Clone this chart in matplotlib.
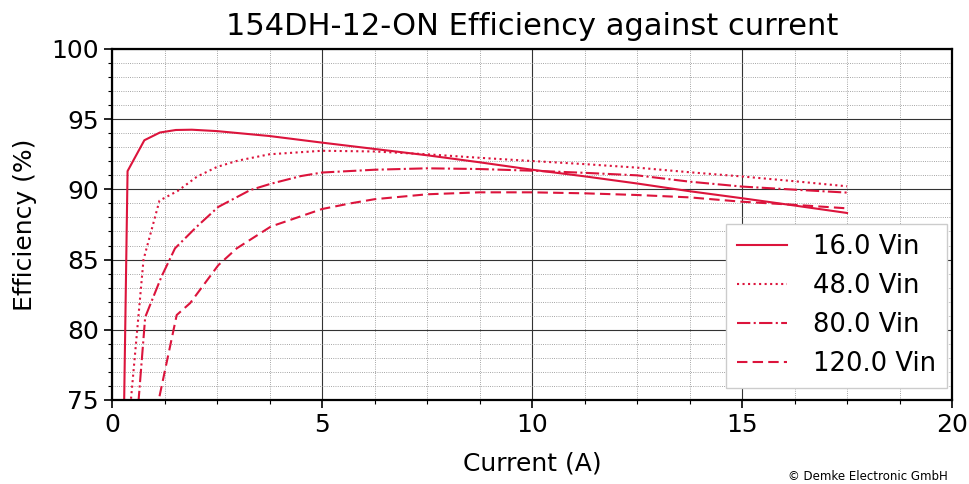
import matplotlib
matplotlib.use("Agg")
import matplotlib.pyplot as plt
from matplotlib.ticker import MultipleLocator

title = "154DH-12-ON Efficiency against current"
xlabel = "Current (A)"
ylabel = "Efficiency (%)"
labels = ["16.0 Vin", "48.0 Vin", "80.0 Vin", "120.0 Vin"]

x16 = [0.25, 0.37, 0.77, 1.14, 1.52, 1.9, 2.5, 3.75, 5.0, 6.25, 7.5, 8.75, 10.0, 11.25, 12.5, 13.75, 15.0, 16.25, 17.5]
y16 = [67.0, 91.3, 93.5, 94.05, 94.23, 94.25, 94.15, 93.8, 93.33, 92.88, 92.43, 91.93, 91.4, 90.93, 90.42, 89.87, 89.37, 88.85, 88.32]

x48 = [0.3, 0.75, 1.13, 1.57, 2.02, 2.5, 3.0, 3.75, 5.0, 6.25, 7.5, 8.75, 10.0, 11.25, 12.5, 13.75, 15.0, 16.25, 17.5]
y48 = [70.0, 85.0, 89.2, 89.9, 90.9, 91.6, 92.05, 92.5, 92.75, 92.7, 92.5, 92.25, 92.02, 91.8, 91.55, 91.22, 90.92, 90.58, 90.22]

x80 = [0.5, 0.79, 1.18, 1.5, 2.02, 2.53, 3.29, 3.78, 4.5, 5.0, 6.25, 7.5, 8.75, 10.0, 11.25, 12.5, 13.75, 15.0, 16.25, 17.5]
y80 = [70.0, 80.9, 83.8, 85.8, 87.35, 88.75, 89.95, 90.4, 90.95, 91.2, 91.4, 91.5, 91.45, 91.33, 91.18, 91.0, 90.55, 90.2, 89.98, 89.77]

x120 = [0.9, 1.54, 1.86, 2.53, 2.97, 3.78, 5.0, 5.67, 6.25, 7.5, 8.75, 10.0, 11.25, 12.5, 13.75, 15.0, 16.25, 17.5]
y120 = [72.0, 81.05, 81.9, 84.6, 85.8, 87.35, 88.6, 89.0, 89.3, 89.65, 89.79, 89.79, 89.72, 89.6, 89.43, 89.12, 88.9, 88.65]

fig = plt.figure(figsize=(9.69, 4.84), dpi=100)
ax = fig.add_axes([0.1156, 0.1736, 0.8669, 0.7252])

color = "crimson"
ax.plot(x16, y16, color=color, lw=1.5, ls="-", label=labels[0])
ax.plot(x48, y48, color=color, lw=1.5, ls=":", label=labels[1])
ax.plot(x80, y80, color=color, lw=1.5, ls="-.", label=labels[2])
ax.plot(x120, y120, color=color, lw=1.5, ls=(0, (5, 2.5)), label=labels[3])

ax.set_xlim(0, 20)
ax.set_ylim(75, 100)
ax.xaxis.set_major_locator(MultipleLocator(5))
ax.xaxis.set_minor_locator(MultipleLocator(1.25))
ax.yaxis.set_major_locator(MultipleLocator(5))
ax.yaxis.set_minor_locator(MultipleLocator(1))
ax.grid(which="major", color="#333333", lw=0.8, ls="-")
ax.grid(which="minor", color="#888888", lw=0.6, ls=":")
ax.set_axisbelow(True)
for s in ax.spines.values():
    s.set_linewidth(1.6)
ax.tick_params(which="major", labelsize=18, length=6, width=1.2)
ax.tick_params(which="minor", length=3, width=0.8)

ax.set_title(title, fontsize=22, pad=10)
ax.set_xlabel(xlabel, fontsize=18, labelpad=10)
ax.set_ylabel(ylabel, fontsize=18, labelpad=10)

leg = ax.legend(loc="lower right", bbox_to_anchor=(0.994, 0.034), borderaxespad=0,
                fontsize=18.6, handlelength=1.95, framealpha=1,
                fancybox=False, edgecolor="#cccccc", borderpad=0.42,
                labelspacing=0.5, handletextpad=1.0)

fig.text(0.978, 0.002, "\u00a9 Demke Electronic GmbH", ha="right", va="bottom", fontsize=8.5)

fig.savefig("out.png", dpi=100)
